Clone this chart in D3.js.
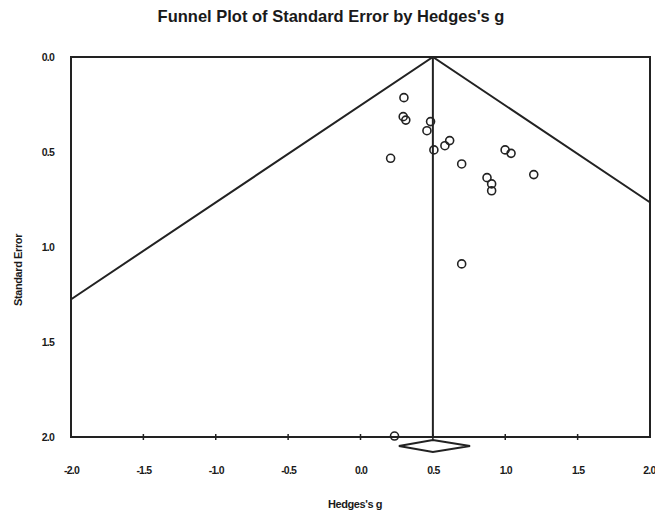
<!DOCTYPE html>
<html>
<head>
<meta charset="utf-8">
<script src="https://cdn.jsdelivr.net/npm/d3@7"></script>
<style>
  body { margin: 0; background: #fff; }
  svg text { font-family: "Liberation Sans", Arial, sans-serif; font-weight: bold; fill: #1a1a1a; }
</style>
</head>
<body>
<svg id="chart" width="655" height="512"></svg>
<script>
// Study effects (Hedges's g) and their standard errors
const effectG = [0.30, 0.295, 0.313, 0.484, 0.459, 0.507, 0.583, 0.616, 0.208, 0.699, 0.999, 1.040, 1.197, 0.874, 0.906, 0.906, 0.699, 0.235];
const stdErr  = [0.214, 0.314, 0.332, 0.34, 0.388, 0.489, 0.467, 0.44, 0.533, 0.563, 0.489, 0.507, 0.619, 0.635, 0.668, 0.704, 1.089, 1.995];

// Pooled estimate and its confidence interval (diamond)
const pooled = 0.5;
const pooledLow = 0.265;
const pooledHigh = 0.757;

const xTicks = [-2.0, -1.5, -1.0, -0.5, 0.0, 0.5, 1.0, 1.5, 2.0];
const yTicks = [0.0, 0.5, 1.0, 1.5, 2.0];

const svg = d3.select("#chart");
const plotL = 71, plotR = 650, plotT = 57, plotB = 437;

const x = d3.scaleLinear().domain([-2, 2]).range([plotL, plotR]);
const y = d3.scaleLinear().domain([0, 2]).range([plotT, plotB]);
const ink = "#222";
// plain hyphen for negatives
const fmt = d => d.toFixed(1);

// Title
svg.append("text").attr("x", 331).attr("y", 22).attr("text-anchor", "middle")
  .attr("font-size", 16.5).attr("letter-spacing", 0)
  .text("Funnel Plot of Standard Error by Hedges's g");

// Clip for funnel lines
svg.append("clipPath").attr("id", "plotclip")
  .append("rect").attr("x", plotL).attr("y", plotT).attr("width", plotR - plotL).attr("height", plotB - plotT);

// Pseudo 95% confidence funnel
const seMax = 2;
const funnel = [
  [[pooled - 1.96 * seMax, seMax], [pooled, 0], [pooled + 1.96 * seMax, seMax]]
];
svg.append("g").attr("clip-path", "url(#plotclip)")
  .selectAll("path").data(funnel).join("path")
  .attr("d", d3.line().x(d => x(d[0])).y(d => y(d[1])))
  .attr("fill", "none").attr("stroke", ink).attr("stroke-width", 2);

// Vertical line at pooled estimate
svg.append("line").attr("x1", x(pooled)).attr("x2", x(pooled))
  .attr("y1", y(0)).attr("y2", y(2)).attr("stroke", ink).attr("stroke-width", 2);

// Frame
svg.append("rect").attr("x", plotL).attr("y", plotT).attr("width", plotR - plotL).attr("height", plotB - plotT)
  .attr("fill", "none").attr("stroke", ink).attr("stroke-width", 2);

// X axis labels and small tick marks on the bottom edge
const xAxis = d3.axisBottom(x).tickValues(xTicks).tickFormat(fmt).tickSize(0).tickPadding(30);
const gx = svg.append("g").attr("transform", `translate(0,${plotB})`).call(xAxis);
gx.select(".domain").remove();
gx.selectAll("text").attr("font-size", 10.5).attr("letter-spacing", -0.8).attr("fill", "#1a1a1a")
  .style("font-family", "Liberation Sans, Arial, sans-serif").style("font-weight", "bold");
// keep the last label inside the page edge
gx.selectAll(".tick").filter(d => d === 2.0).select("text")
  .attr("text-anchor", "end").attr("dx", 5);
svg.append("g").selectAll("line").data(xTicks.slice(1, -1)).join("line")
  .attr("x1", d => x(d)).attr("x2", d => x(d))
  .attr("y1", plotB - 3).attr("y2", plotB + 3).attr("stroke", ink).attr("stroke-width", 1.5);

// Y axis labels
const yAxis = d3.axisLeft(y).tickValues(yTicks).tickFormat(fmt).tickSize(0).tickPadding(17);
const gy = svg.append("g").attr("transform", `translate(${plotL},0)`).call(yAxis);
gy.select(".domain").remove();
gy.selectAll("text").attr("font-size", 10.5).attr("letter-spacing", -0.8).attr("fill", "#1a1a1a")
  .style("font-family", "Liberation Sans, Arial, sans-serif").style("font-weight", "bold");

// Axis titles
svg.append("text").attr("x", 355).attr("y", 508).attr("text-anchor", "middle")
  .attr("font-size", 11).attr("letter-spacing", -0.4).text("Hedges's g");
svg.append("text").attr("transform", "translate(22,270) rotate(-90)").attr("text-anchor", "middle")
  .attr("font-size", 11).attr("letter-spacing", -0.4).text("Standard Error");

// Study points
svg.append("g").selectAll("circle").data(effectG.map((g, i) => [g, stdErr[i]])).join("circle")
  .attr("cx", d => x(d[0])).attr("cy", d => y(d[1])).attr("r", 4)
  .attr("fill", "none").attr("stroke", ink).attr("stroke-width", 1.6);

// Summary diamond
const dy = 6;
const diamond = [[pooledLow, 0], [pooled, -1], [pooledHigh, 0], [pooled, 1]];
svg.append("path")
  .attr("d", d3.line().x(d => x(d[0])).y(d => plotB + 9 + d[1] * dy)(diamond) + "Z")
  .attr("fill", "#fff").attr("stroke", ink).attr("stroke-width", 1.8);
</script>
</body>
</html>
